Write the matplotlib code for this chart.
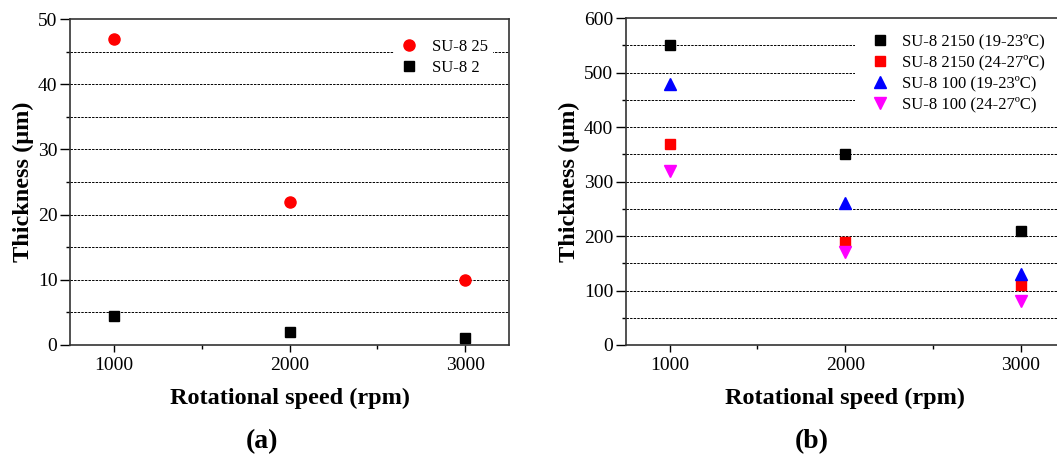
import numpy as np
import matplotlib.pyplot as plt
from matplotlib.ticker import MultipleLocator

plt.rcParams['font.family'] = ['Liberation Serif', 'DejaVu Serif']

# Data
speed = [1000, 2000, 3000]

su8_25 = [47, 22, 10]
su8_2 = [4.5, 2, 1]

su8_2150_cold = [550, 350, 210]
su8_2150_warm = [370, 190, 110]
su8_100_cold = [480, 260, 130]
su8_100_warm = [320, 170, 80]

fig = plt.figure(figsize=(10.57, 4.54), dpi=100)
ax1 = fig.add_axes([0.0662, 0.2401, 0.4154, 0.718])
ax2 = fig.add_axes([0.592, 0.2401, 0.4154, 0.7197])

tick_fs = 14
label_fs = 17.5
leg_fs = 12


def style_axes(ax, ymax, ymajor):
    ax.set_xlim(750, 3250)
    ax.set_ylim(0, ymax)
    ax.xaxis.set_major_locator(MultipleLocator(1000))
    ax.xaxis.set_minor_locator(MultipleLocator(500))
    ax.yaxis.set_major_locator(MultipleLocator(ymajor))
    ax.yaxis.set_minor_locator(MultipleLocator(ymajor / 2))
    ax.tick_params(axis='both', which='major', direction='out', length=5, width=1,
                   labelsize=tick_fs, top=False, right=False)
    ax.tick_params(axis='both', which='minor', direction='out', length=3, width=1,
                   top=False, right=False)
    ax.tick_params(axis='y', which='major', length=7, pad=2)
    for s in ax.spines.values():
        s.set_linewidth(1.2)
        s.set_color('#333333')
    # dashed gridlines at every y tick except the limits
    for v in np.arange(ymajor / 2, ymax, ymajor / 2):
        ax.axhline(v, color='black', lw=0.7, ls=(0, (2.5, 1.2)), zorder=0)
    ax.set_xlabel('Rotational speed (rpm)', fontsize=label_fs, fontweight='bold', labelpad=10)
    ax.set_ylabel('Thickness (μm)', fontsize=label_fs, fontweight='bold', labelpad=3)


style_axes(ax1, 50, 10)
style_axes(ax2, 600, 100)

ax1.plot(speed, su8_25, 'o', color='red', ms=8, ls='none', label='SU-8 25', zorder=3)
ax1.plot(speed, su8_2, 's', color='black', ms=7, ls='none', label='SU-8 2', zorder=3)

ax2.plot(speed, su8_2150_cold, 's', color='black', ms=7, ls='none', label='SU-8 2150 (19-23ºC)', zorder=3)
ax2.plot(speed, su8_2150_warm, 's', color='red', ms=7, ls='none', label='SU-8 2150 (24-27ºC)', zorder=3)
ax2.plot(speed, su8_100_cold, '^', color='blue', ms=9, ls='none', label='SU-8 100 (19-23ºC)', zorder=3)
ax2.plot(speed, su8_100_warm, 'v', color='magenta', ms=9, ls='none', label='SU-8 100 (24-27ºC)', zorder=3)

for ax, anchor, pad in [(ax1, (0.72, 0.98), 0.3), (ax2, (0.503, 1.025), 0.9)]:
    leg = ax.legend(loc='upper left', bbox_to_anchor=anchor, fontsize=leg_fs,
                    frameon=True, fancybox=False, framealpha=1, edgecolor='none',
                    handlelength=1.2, handletextpad=0.75, labelspacing=0.3,
                    borderpad=pad)
    leg.get_frame().set_facecolor('white')
    # above the dashed lines, below the spines
    leg.set_zorder(2)

fig.text(0.248, 0.027, '(a)', fontsize=20, fontweight='bold', ha='center', va='center')
fig.text(0.768, 0.027, '(b)', fontsize=20, fontweight='bold', ha='center', va='center')

fig.savefig('out.png', dpi=100)
